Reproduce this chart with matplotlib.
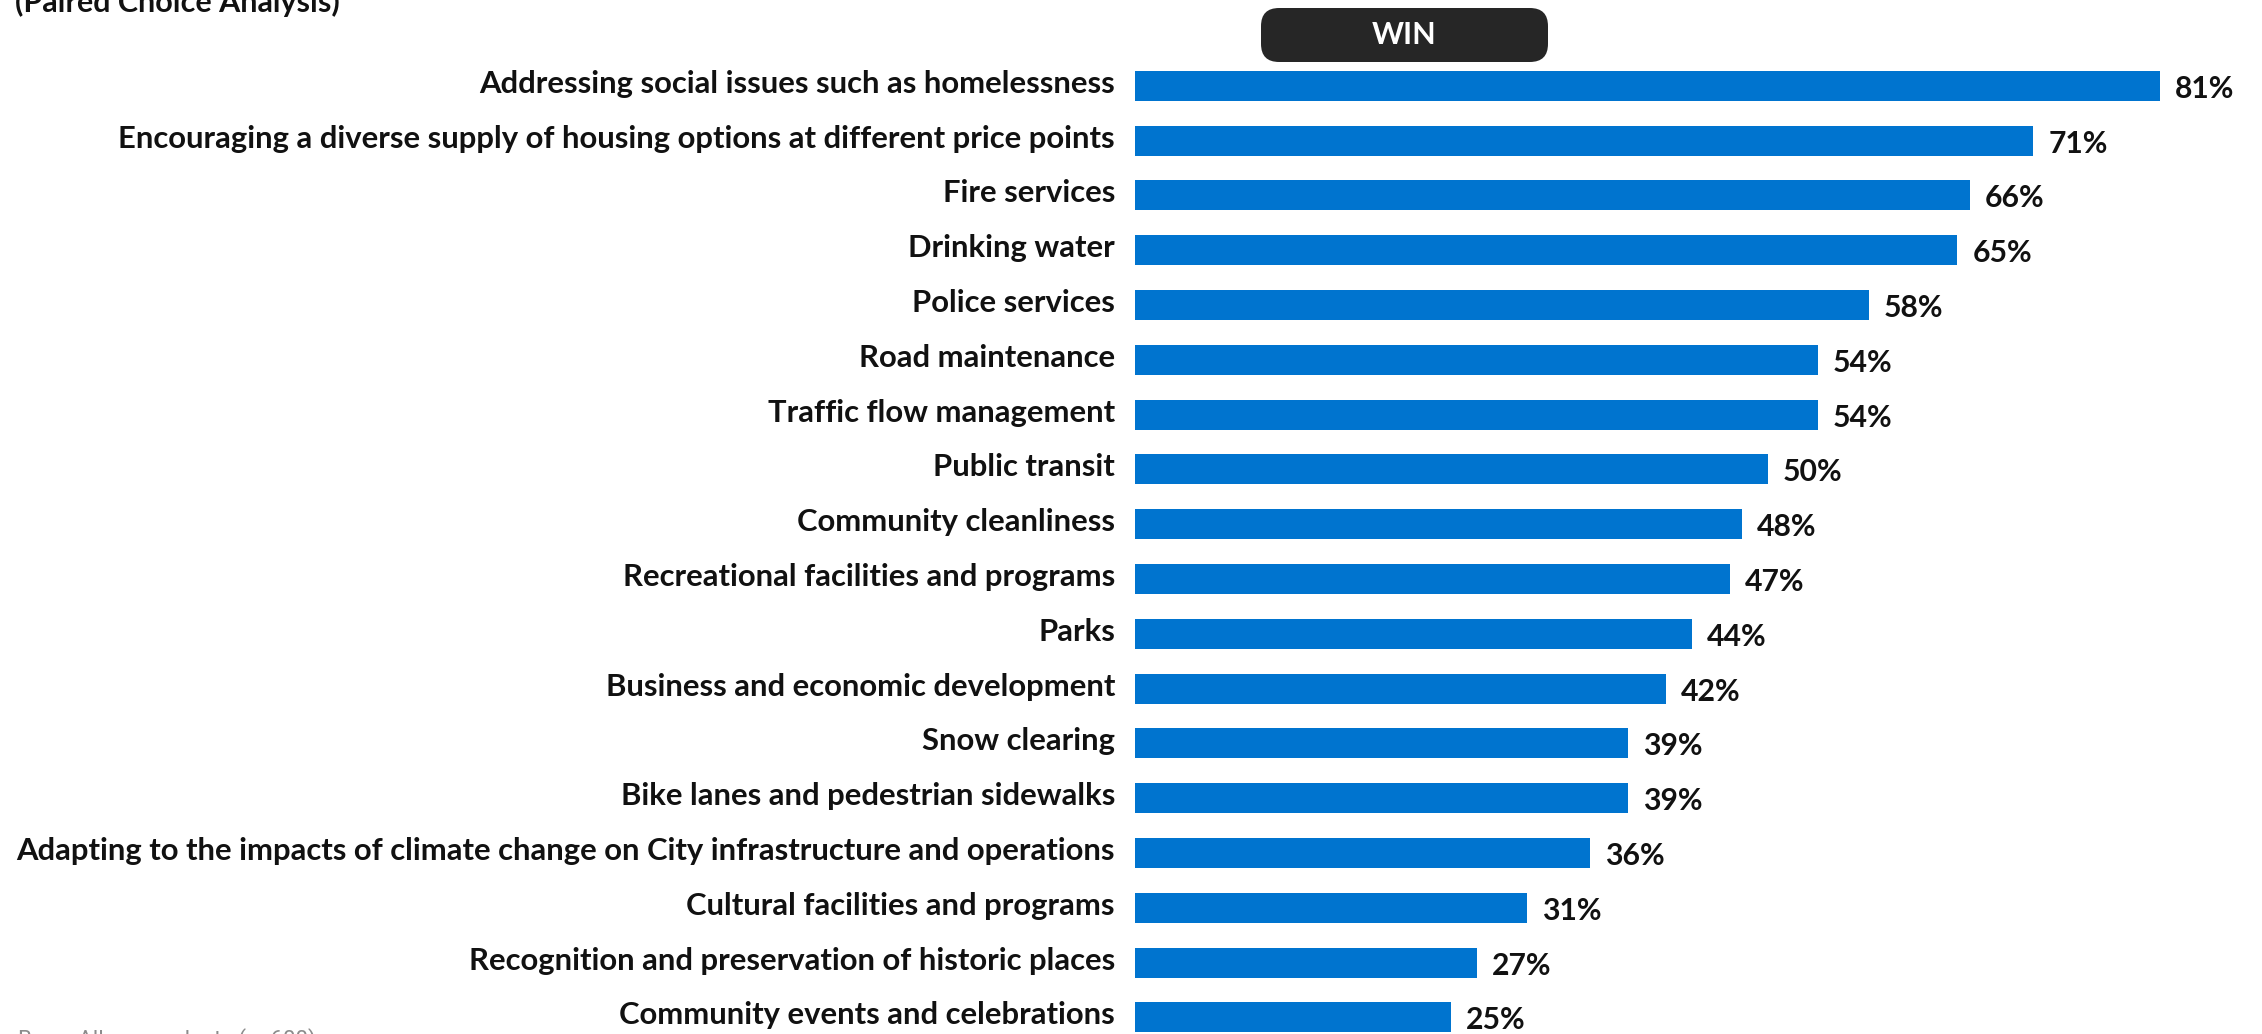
import matplotlib
matplotlib.use("Agg")
import matplotlib.pyplot as plt
from matplotlib.patches import FancyBboxPatch

# paired choice results, highest first
services = [
    "Addressing social issues such as homelessness",
    "Encouraging a diverse supply of housing options at different price points",
    "Fire services",
    "Drinking water",
    "Police services",
    "Road maintenance",
    "Traffic flow management",
    "Public transit",
    "Community cleanliness",
    "Recreational facilities and programs",
    "Parks",
    "Business and economic development",
    "Snow clearing",
    "Bike lanes and pedestrian sidewalks",
    "Adapting to the impacts of climate change on City infrastructure and operations",
    "Cultural facilities and programs",
    "Recognition and preservation of historic places",
    "Community events and celebrations",
]
win_pct = [81, 71, 66, 65, 58, 54, 54, 50, 48, 47, 44, 42, 39, 39, 36, 31, 27, 25]

BLUE = "#0074CF"
FONT = "Lato"

W, H = 2262, 1034
fig = plt.figure(figsize=(W / 100, H / 100), dpi=100)

# axes placed in pixels: bars start at x=1135, rows 54.8px apart
x0, px_per = 1135, 12.65
row0, pitch = 85.8, 54.8
xmax = (W - x0) / px_per
top_px = row0 - pitch / 2
bot_px = row0 + pitch * (len(services) - 0.5)
ax = fig.add_axes([x0 / W, 1 - bot_px / H, (W - x0) / W, (bot_px - top_px) / H])

ypos = list(range(len(services)))
ax.barh(ypos, win_pct, height=0.55, color=BLUE)
ax.set_xlim(0, xmax)
ax.set_ylim(len(services) - 0.5, -0.5)
ax.axis("off")

for y, name, v in zip(ypos, services, win_pct):
    ax.annotate(name, xy=(0, y), xytext=(-20, 2), textcoords="offset pixels",
                ha="right", va="center", fontsize=22.3, fontweight="bold",
                family=FONT, color="#111111", annotation_clip=False)
    ax.annotate(f"{v}%", xy=(v, y), xytext=(15, -3), textcoords="offset pixels",
                ha="left", va="center", fontsize=21.7, fontweight="bold",
                family=FONT, color="#111111", annotation_clip=False)

# header pill over the bars
box = FancyBboxPatch((1261 / W, 1 - 62 / H), 287 / W, 54 / H,
                     boxstyle="round,pad=0,rounding_size=0.008",
                     transform=fig.transFigure, facecolor="#262626",
                     edgecolor="none", mutation_aspect=W / H)
fig.patches.append(box)
fig.text(1404 / W, 1 - 35 / H, "WIN", ha="center", va="center", color="white",
         fontsize=22, fontweight="bold", family=FONT)

fig.text(15 / W, 1 - 12 / H, "(Paired Choice Analysis)", ha="left",
         va="baseline", fontsize=22, fontweight="bold", family=FONT,
         color="#111111")
fig.text(18 / W, 1 - 1028 / H, "Base: All respondents (n=600)", ha="left",
         va="top", fontsize=16, family="Roboto", color="#8c8c8c")

fig.savefig("out.png", dpi=100)
